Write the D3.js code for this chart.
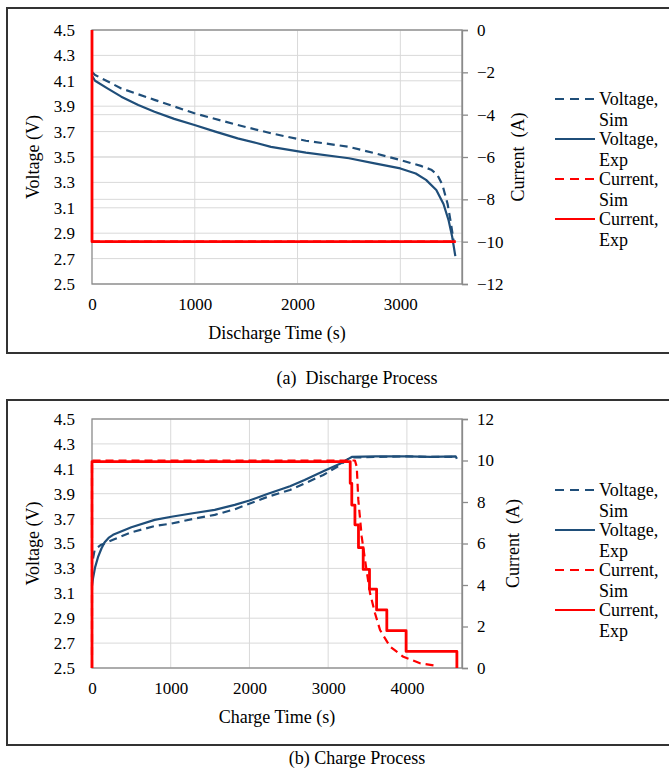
<!DOCTYPE html>
<html>
<head>
<meta charset="utf-8">
<script src="https://cdn.jsdelivr.net/npm/d3@7"></script>
<style>
  body { margin: 0; background: #fff; }
  svg text { font-family: "Liberation Serif", Tinos, "Times New Roman", "DejaVu Serif", serif !important; fill: #000; }
</style>
</head>
<body>
<div class="chart"></div>
<script>
// ---- (a) discharge ----
const dchVoltSimT = [0, 30, 285, 608, 997, 1417, 1741, 2081, 2500, 2750, 3000, 3200, 3300, 3360, 3410, 3460, 3490, 3520]
const dchVoltSimV = [4.17, 4.146, 4.04, 3.95, 3.844, 3.752, 3.687, 3.628, 3.58, 3.53, 3.476, 3.43, 3.40, 3.36, 3.28, 3.13, 2.99, 2.83]
const dchVoltExpT = [0, 30, 150, 285, 450, 608, 800, 997, 1200, 1417, 1600, 1741, 2081, 2500, 2750, 3000, 3150, 3250, 3350, 3420, 3470, 3505, 3535]
const dchVoltExpV = [4.14, 4.10, 4.04, 3.975, 3.91, 3.857, 3.80, 3.752, 3.70, 3.647, 3.61, 3.58, 3.534, 3.49, 3.45, 3.41, 3.37, 3.32, 3.24, 3.13, 3.00, 2.87, 2.72]
const dchCurrSimT = [0, 3530]
const dchCurrSimI = [-10, -10]
const dchCurrExpT = [0, 0, 3540]
const dchCurrExpI = [0, -10, -10]

// ---- (b) charge ----
const chVoltSimT = [13, 34, 118, 267, 500, 796, 1008, 1300, 1559, 1813, 2236, 2515, 2938, 3150, 3235, 3280, 3600, 4000, 4300, 4620]
const chVoltSimV = [3.38, 3.45, 3.49, 3.53, 3.59, 3.64, 3.66, 3.70, 3.73, 3.775, 3.876, 3.93, 4.05, 4.13, 4.17, 4.19, 4.195, 4.2, 4.195, 4.195]
const chVoltExpT = [0, 13, 40, 76, 120, 161, 210, 267, 500, 796, 1008, 1300, 1559, 1813, 2000, 2236, 2515, 2700, 2938, 3150, 3257, 3300, 3600, 4000, 4300, 4620, 4635]
const chVoltExpV = [3.16, 3.22, 3.31, 3.39, 3.46, 3.51, 3.545, 3.57, 3.63, 3.69, 3.715, 3.745, 3.77, 3.81, 3.845, 3.90, 3.96, 4.01, 4.08, 4.14, 4.18, 4.195, 4.2, 4.2, 4.195, 4.2, 4.18]
const chCurrSimT = [0, 0, 3340, 3363, 3383, 3426, 3481, 3532, 3595, 3659, 3786, 3955, 4167, 4379]
const chCurrSimI = [0, 10, 10, 9.7, 8.1, 6.33, 4.88, 3.6, 2.64, 1.83, 1.03, 0.54, 0.23, 0.1]
const chCurrExpT = [0, 0, 3280, 3280, 3300, 3300, 3340, 3340, 3385, 3385, 3445, 3445, 3525, 3525, 3615, 3615, 3745, 3745, 3990, 3990, 4635, 4635]
const chCurrExpI = [0, 9.95, 9.95, 8.9, 8.9, 7.85, 7.85, 6.9, 6.9, 5.8, 5.8, 4.75, 4.75, 3.8, 3.8, 2.8, 2.8, 1.8, 1.8, 0.8, 0.8, 0]

const voltTicks = [2.5, 2.7, 2.9, 3.1, 3.3, 3.5, 3.7, 3.9, 4.1, 4.3, 4.5]
const dchCurrTicks = [-12, -10, -8, -6, -4, -2, 0]
const chCurrTicks = [0, 2, 4, 6, 8, 10, 12]
const dchTimeTicks = [0, 1000, 2000, 3000]
const chTimeTicks = [0, 1000, 2000, 3000, 4000]
const legendNames = [["Voltage,", "Sim"], ["Voltage,", "Exp"], ["Current,", "Sim"], ["Current,", "Exp"]]

const blue = "#1f4e79"
const red = "#ff0000"
const serif = '"Liberation Serif", Tinos, "Times New Roman", serif'

const width = 669
const height = 780

d3.select('.chart > *').remove()
const svg = d3.select(".chart").append("svg")
    .attr("width", width)
    .attr("height", height)
    .attr("viewBox", [0, 0, width, height])
    .attr("font-family", serif)

const zip = (ts, vs) => ts.map((t, i) => [t, vs[i]])

const drawPanel = (p) => {
  const margin = ({left: 92, right: 462, top: p.top, bottom: p.bottom})

  // outer frame
  svg.append("rect")
      .attr("x", 7).attr("y", p.frameTop)
      .attr("width", 690).attr("height", p.frameBottom - p.frameTop)
      .attr("fill", "none").attr("stroke", "#333").attr("stroke-width", 2)

  let x = d3.scaleLinear().domain([0, p.xMax]).range([margin.left, margin.right])
  let yL = d3.scaleLinear().domain([2.5, 4.5]).range([margin.bottom, margin.top])
  let yR = d3.scaleLinear().domain(d3.extent(p.currTicks)).range([margin.bottom, margin.top])

  // grid
  const g = svg.append("g").attr("stroke", "#d9d9d9").attr("stroke-width", 1)
  g.selectAll(".hl").data(voltTicks).join("line")
      .attr("x1", margin.left).attr("x2", margin.right)
      .attr("y1", d => yL(d)).attr("y2", d => yL(d))
  if (p.rightGrid) {
    g.selectAll(".hr").data(p.currTicks).join("line")
        .attr("x1", margin.left).attr("x2", margin.right)
        .attr("y1", d => yR(d)).attr("y2", d => yR(d))
  }
  g.selectAll(".v").data(p.timeTicks.slice(1)).join("line")
      .attr("x1", d => x(d)).attr("x2", d => x(d))
      .attr("y1", margin.top).attr("y2", margin.bottom)

  // plot border
  svg.append("rect")
      .attr("x", margin.left).attr("y", margin.top)
      .attr("width", margin.right - margin.left).attr("height", margin.bottom - margin.top)
      .attr("fill", "none").attr("stroke", "#8a8a8a").attr("stroke-width", 1.3)

  // axes
  svg.append("g")
      .attr("transform", `translate(${margin.left},0)`)
      .call(d3.axisLeft(yL).tickValues(voltTicks).tickFormat(d3.format(".1f")).tickSize(0).tickPadding(17))
      .call(g => g.select(".domain").remove())
      .call(g => g.attr("font-family", serif).attr("font-size", 17))

  svg.append("g")
      .attr("transform", `translate(0,${margin.bottom})`)
      .call(d3.axisBottom(x).tickValues(p.timeTicks).tickFormat(d3.format("d")).tickSize(0).tickPadding(14))
      .call(g => g.select(".domain").remove())
      .call(g => g.attr("font-family", serif).attr("font-size", 17))

  svg.append("g")
      .attr("transform", `translate(${margin.right},0)`)
      .call(d3.axisRight(yR).tickValues(p.currTicks).tickSizeOuter(0).tickSize(6).tickPadding(9))
      .call(g => g.select(".domain").attr("stroke", "#8a8a8a").attr("stroke-width", 1.3))
      .call(g => g.selectAll(".tick line").attr("stroke", "#8a8a8a").attr("stroke-width", 1.3))
      .call(g => g.attr("font-family", serif).attr("font-size", 17))

  // axis titles
  svg.append("text")
      .attr("text-anchor", "middle")
      .attr("font-size", 18)
      .attr("transform", `translate(39,${(margin.top + margin.bottom) / 2})rotate(-90)`)
      .text("Voltage (V)")

  svg.append("text")
      .attr("text-anchor", "middle")
      .attr("font-size", 18)
      .attr("xml:space", "preserve")
      .attr("transform", `translate(${p.rightTitleX},${(margin.top + margin.bottom) / 2})rotate(-90)`)
      .text("Current\u2002(A)")

  svg.append("text")
      .attr("text-anchor", "middle")
      .attr("font-size", 18)
      .attr("x", 277).attr("y", margin.bottom + 55)
      .text(p.xTitle)

  svg.append("text")
      .attr("text-anchor", "middle")
      .attr("font-size", 18)
      .attr("xml:space", "preserve")
      .attr("x", 357).attr("y", p.captionY)
      .text(p.caption)

  // series
  const line = (yScale) => d3.line().x(d => x(d[0])).y(d => yScale(d[1]))
  p.series.forEach(s => {
    svg.append("path")
        .datum(s.data)
        .attr("fill", "none")
        .attr("stroke", s.color)
        .attr("stroke-width", s.w)
        .attr("stroke-dasharray", s.dash)
        .attr("stroke-linejoin", "round")
        .attr("d", line(s.axis === "V" ? yL : yR))
  })

  // legend
  const lg = svg.append("g")
  p.series.forEach((s, i) => {
    const ly = p.legendY + i * 40
    lg.append("line")
        .attr("x1", 555).attr("x2", 595)
        .attr("y1", ly).attr("y2", ly)
        .attr("stroke", s.color).attr("stroke-width", 2.2)
        .attr("stroke-dasharray", s.dash ? "9,6" : null)
    lg.append("text")
        .attr("x", 599).attr("y", ly + 6)
        .attr("font-size", 18)
        .text(legendNames[i][0])
    lg.append("text")
        .attr("x", 599).attr("y", ly + 27)
        .attr("font-size", 18)
        .text(legendNames[i][1])
  })
}

drawPanel({
  top: 30, bottom: 284, frameTop: 8, frameBottom: 353,
  xMax: 3600, timeTicks: dchTimeTicks, currTicks: dchCurrTicks, rightGrid: true,
  rightTitleX: 524, xTitle: "Discharge Time (s)", caption: "(a)  Discharge Process", captionY: 384,
  legendY: 99,
  series: [
    {data: zip(dchVoltSimT, dchVoltSimV), axis: "V", color: blue, dash: "8,5", w: 2.2},
    {data: zip(dchVoltExpT, dchVoltExpV), axis: "V", color: blue, dash: null, w: 2.2},
    {data: zip(dchCurrSimT, dchCurrSimI), axis: "I", color: red, dash: "8,5", w: 2.2},
    {data: zip(dchCurrExpT, dchCurrExpI), axis: "I", color: red, dash: null, w: 2.8}
  ]
})

drawPanel({
  top: 419, bottom: 668, frameTop: 400, frameBottom: 745,
  xMax: 4700, timeTicks: chTimeTicks, currTicks: chCurrTicks, rightGrid: false,
  rightTitleX: 519, xTitle: "Charge Time (s)", caption: "(b) Charge Process", captionY: 764,
  legendY: 490,
  series: [
    {data: zip(chVoltSimT, chVoltSimV), axis: "V", color: blue, dash: "8,5", w: 2.2},
    {data: zip(chVoltExpT, chVoltExpV), axis: "V", color: blue, dash: null, w: 2.2},
    {data: zip(chCurrSimT, chCurrSimI), axis: "I", color: red, dash: "8,5", w: 2.2},
    {data: zip(chCurrExpT, chCurrExpI), axis: "I", color: red, dash: null, w: 2.8}
  ]
})
</script>
</body>
</html>
